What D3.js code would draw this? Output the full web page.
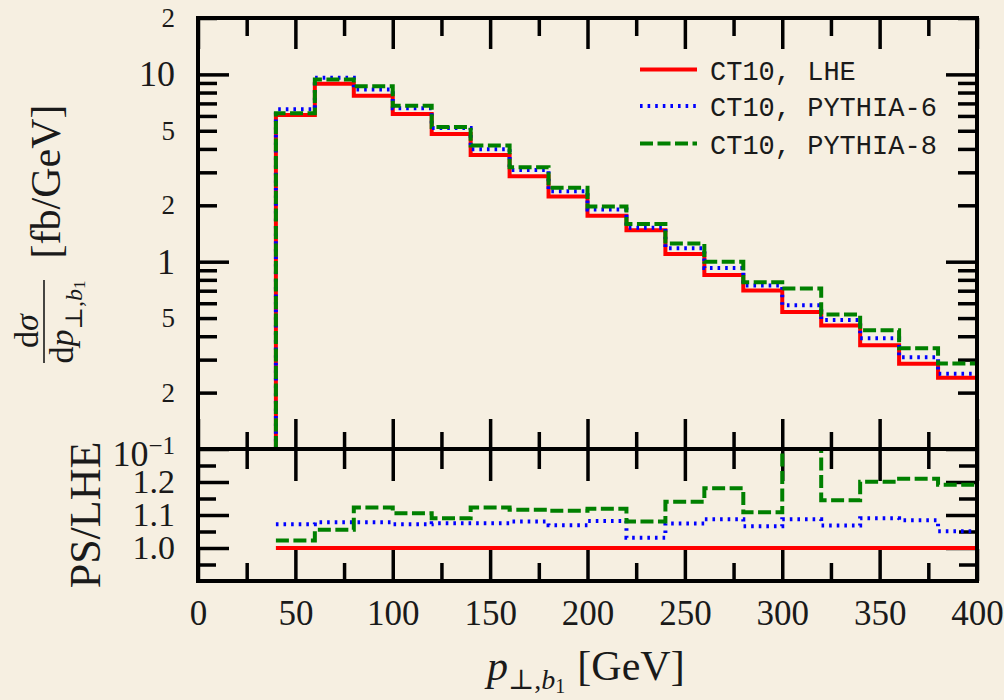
<!DOCTYPE html>
<html>
<head>
<meta charset="utf-8">
<script src="https://cdn.jsdelivr.net/npm/d3@7"></script>
<style>
  html, body { margin: 0; padding: 0; background: #f6efe1; }
  svg { display: block; }
  .serif { font-family: "Liberation Serif", "DejaVu Serif", serif; fill: #1a1a1a; }
  .mono { font-family: "Liberation Mono", "DejaVu Sans Mono", monospace; fill: #1a1a1a; }
</style>
</head>
<body>
<svg id="chart" width="1004" height="700"></svg>
<script>
// Lower edges of the 20 GeV wide p_T bins
const binLow = [40, 60, 80, 100, 120, 140, 160, 180, 200, 220, 240, 260, 280, 300, 320, 340, 360, 380];
const binEnd = 400;

// dσ/dp_T [fb/GeV]
const lheValues = [6.07, 8.90, 7.70, 6.15, 4.81, 3.71, 2.86, 2.23, 1.76, 1.47, 1.10, 0.850, 0.701, 0.539, 0.457, 0.358, 0.285, 0.240];
const pythia6Values = [6.51, 9.59, 8.30, 6.59, 5.17, 3.99, 3.09, 2.38, 1.90, 1.52, 1.18, 0.924, 0.747, 0.586, 0.488, 0.390, 0.309, 0.252];
const pythia8Values = [6.21, 9.39, 8.65, 6.80, 5.24, 4.17, 3.19, 2.48, 1.97, 1.59, 1.25, 1.00, 0.777, 0.719, 0.523, 0.430, 0.345, 0.286];

// PS / LHE ratios
const lheRatio = [1, 1, 1, 1, 1, 1, 1, 1, 1, 1, 1, 1, 1, 1, 1, 1, 1, 1];
const pythia6Ratio = [1.072, 1.078, 1.078, 1.072, 1.075, 1.075, 1.080, 1.069, 1.082, 1.031, 1.074, 1.087, 1.066, 1.087, 1.068, 1.090, 1.084, 1.051];
const pythia8Ratio = [1.023, 1.055, 1.123, 1.105, 1.090, 1.123, 1.116, 1.113, 1.119, 1.080, 1.140, 1.181, 1.108, 1.334, 1.145, 1.201, 1.210, 1.192];

const seriesNames = ["CT10, LHE", "CT10, PYTHIA-6", "CT10, PYTHIA-8"];

// Axis ticks
const xMajorTicks = [0, 50, 100, 150, 200, 250, 300, 350, 400];
const xMinorTicks = [25, 75, 125, 175, 225, 275, 325, 375];
const xTickLabels = ["0", "50", "100", "150", "200", "250", "300", "350", "400"];
const yMajorTicks = [0.1, 1, 10];
const yMinorTicks = [0.2, 0.3, 0.4, 0.5, 0.6, 0.7, 0.8, 0.9, 2, 3, 4, 5, 6, 7, 8, 9, 20];
const yMajorLabels = ["", "1", "10"];
const yMinorLabelTicks = [0.2, 0.5, 2, 5, 20];
const yMinorLabels = ["2", "5", "2", "5", "2"];
const rMajorTicks = [1.0, 1.1, 1.2];
const rMinorTicks = [0.95, 1.05, 1.15, 1.25];
const rTickLabels = ["1.0", "1.1", "1.2"];

// Panel geometry
const L = 198, R = 977, T = 18, M = 449, B = 581;

const svg = d3.select("#chart");
svg.append("rect").attr("width", 1004).attr("height", 700).attr("fill", "#f6efe1");

const x = d3.scaleLinear().domain([0, 400]).range([L, R]);
const y = d3.scaleLog().domain([0.1, 20]).range([M, T]);
const yr = d3.scaleLinear().domain([0.9, 1.3]).range([B, M]);

const defs = svg.append("defs");
defs.append("clipPath").attr("id", "clipMain")
  .append("rect").attr("x", L).attr("y", T).attr("width", R - L).attr("height", M - T);
defs.append("clipPath").attr("id", "clipRatio")
  .append("rect").attr("x", L).attr("y", M).attr("width", R - L).attr("height", B - M);

const styles = [
  { color: "#ff0000", dash: null },
  { color: "#0000ff", dash: "2.6 5" },
  { color: "#008000", dash: "13 4.5" }
];

// Tick marks (drawn inward)
function ticks(gen, scale, vals, size, tx, ty) {
  const g = svg.append("g").attr("transform", `translate(${tx},${ty})`)
    .call(gen(scale).tickValues(vals).tickSize(size).tickFormat(""));
  g.select(".domain").remove();
  g.selectAll("line").attr("stroke", "#000").attr("stroke-width", 3.5);
  g.selectAll("text").remove();
  return g;
}
// main panel
ticks(d3.axisLeft, y, yMajorTicks, -31, L, 0);
ticks(d3.axisLeft, y, yMinorTicks, -19, L, 0);
ticks(d3.axisRight, y, yMajorTicks, -31, R, 0);
ticks(d3.axisRight, y, yMinorTicks, -19, R, 0);
ticks(d3.axisTop, x, xMajorTicks, -31, 0, T);
ticks(d3.axisTop, x, xMinorTicks, -18, 0, T);
ticks(d3.axisBottom, x, xMajorTicks, -30, 0, M);
ticks(d3.axisBottom, x, xMinorTicks, -17, 0, M);
// ratio panel
ticks(d3.axisTop, x, xMajorTicks, -32, 0, M);
ticks(d3.axisTop, x, xMinorTicks, -20, 0, M);
ticks(d3.axisBottom, x, xMajorTicks, -32, 0, B);
ticks(d3.axisBottom, x, xMinorTicks, -18, 0, B);
ticks(d3.axisLeft, yr, rMajorTicks, -31, L, 0);
ticks(d3.axisLeft, yr, rMinorTicks, -18, L, 0);
ticks(d3.axisRight, yr, rMajorTicks, -31, R, 0);
ticks(d3.axisRight, yr, rMinorTicks, -18, R, 0);

// Histogram outlines in the main panel (start from the bottom edge at the first bin)
const mainLine = d3.line().x(d => x(d[0])).y(d => y(d[1])).curve(d3.curveStepAfter);
const mainPts = vals => [[binLow[0], 0.1]]
  .concat(binLow.map((b, i) => [b, vals[i]]))
  .concat([[binEnd, vals[vals.length - 1]]]);

const gMain = svg.append("g").attr("clip-path", "url(#clipMain)");
[lheValues, pythia6Values, pythia8Values].forEach((vals, i) => {
  gMain.append("path")
    .attr("d", mainLine(mainPts(vals)))
    .attr("fill", "none")
    .attr("stroke", styles[i].color)
    .attr("stroke-width", 4)
    .attr("stroke-dasharray", styles[i].dash);
});

// Ratio panel
const ratioLine = d3.line().x(d => x(d[0])).y(d => yr(d[1])).curve(d3.curveStepAfter);
const ratioPts = vals => binLow.map((b, i) => [b, vals[i]]).concat([[binEnd, vals[vals.length - 1]]]);
const gRatio = svg.append("g").attr("clip-path", "url(#clipRatio)");
[lheRatio, pythia6Ratio, pythia8Ratio].forEach((vals, i) => {
  gRatio.append("path")
    .attr("d", ratioLine(ratioPts(vals)))
    .attr("fill", "none")
    .attr("stroke", styles[i].color)
    .attr("stroke-width", 4)
    .attr("stroke-dasharray", styles[i].dash);
});

// Frames
svg.append("rect").attr("x", L).attr("y", T).attr("width", R - L).attr("height", B - T)
  .attr("fill", "none").attr("stroke", "#000").attr("stroke-width", 4);
svg.append("line").attr("x1", L).attr("x2", R).attr("y1", M).attr("y2", M)
  .attr("stroke", "#000").attr("stroke-width", 4);

// Tick labels
function labels(gen, scale, vals, texts, pad, size, tx, ty) {
  const g = svg.append("g").attr("transform", `translate(${tx},${ty})`)
    .call(gen(scale).tickValues(vals).tickSize(0).tickPadding(pad)
      .tickFormat((d, i) => texts[i]));
  g.select(".domain").remove();
  g.selectAll("line").remove();
  g.selectAll("text").attr("class", "serif").attr("fill", "#1a1a1a")
    .style("font-size", size + "px");
  return g;
}
labels(d3.axisLeft, y, yMajorTicks, yMajorLabels, 23, 36, L, 0);
labels(d3.axisLeft, y, yMinorLabelTicks, yMinorLabels, 23, 27, L, 0);
labels(d3.axisLeft, yr, rMajorTicks, rTickLabels, 23, 34, L, 0);
labels(d3.axisBottom, x, xMajorTicks, xTickLabels, 19, 35, 0, B);

// 10^-1 label
const tenth = svg.append("text").attr("class", "serif")
  .attr("x", L - 23).attr("y", y(0.1) + 17).attr("text-anchor", "end")
  .style("font-size", "36px");
tenth.append("tspan").text("10");
tenth.append("tspan").attr("dy", -12).style("font-size", "25px").text("\u22121");

// Axis titles
const xt = svg.append("text").attr("class", "serif")
  .attr("x", 487).attr("y", 680).style("font-size", "42px");
xt.append("tspan").style("font-style", "italic").text("p");
xt.append("tspan").attr("dy", 9).style("font-size", "28px").text("\u22a5,");
xt.append("tspan").style("font-size", "28px").style("font-style", "italic").text("b");
xt.append("tspan").attr("dy", 4).style("font-size", "20px").text("1");
xt.append("tspan").attr("dy", -13).attr("dx", 12).text("[GeV]");

svg.append("text").attr("class", "serif")
  .attr("transform", "translate(60,181.5) rotate(-90)")
  .attr("text-anchor", "middle").style("font-size", "42px").text("[fb/GeV]");

const num = svg.append("text").attr("class", "serif")
  .attr("transform", "translate(38,331) rotate(-90)")
  .attr("text-anchor", "middle").style("font-size", "34px");
num.append("tspan").text("d");
num.append("tspan").style("font-style", "italic").text("\u03c3");

svg.append("line").attr("x1", 44).attr("x2", 44).attr("y1", 280).attr("y2", 363)
  .attr("stroke", "#1a1a1a").attr("stroke-width", 1.6);

const den = svg.append("text").attr("class", "serif")
  .attr("transform", "translate(73,322) rotate(-90)")
  .attr("text-anchor", "middle").style("font-size", "34px");
den.append("tspan").text("d");
den.append("tspan").style("font-style", "italic").text("p");
den.append("tspan").attr("dy", 9).style("font-size", "24px").text("\u22a5,");
den.append("tspan").style("font-size", "24px").style("font-style", "italic").text("b");
den.append("tspan").attr("dy", 3).style("font-size", "17px").text("1");

svg.append("text").attr("class", "serif")
  .attr("transform", "translate(100,515) rotate(-90)")
  .attr("text-anchor", "middle").style("font-size", "44px").text("PS/LHE");

// Legend
const legendY = [69.5, 106, 143.5];
seriesNames.forEach((name, i) => {
  svg.append("line").attr("x1", 640).attr("x2", 697)
    .attr("y1", legendY[i]).attr("y2", legendY[i])
    .attr("stroke", styles[i].color).attr("stroke-width", 4)
    .attr("stroke-dasharray", styles[i].dash);
  svg.append("text").attr("class", "mono")
    .attr("x", 710).attr("y", legendY[i] + 10)
    .style("font-size", "27px").text(name);
});
</script>
</body>
</html>
